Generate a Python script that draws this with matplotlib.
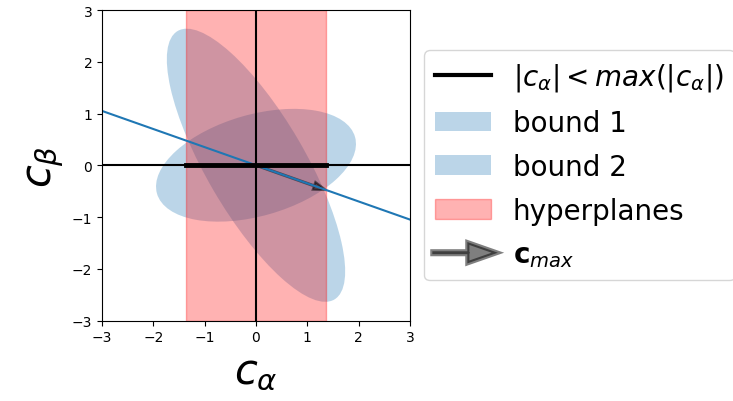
import numpy as np
import matplotlib
matplotlib.use("Agg")
import matplotlib.pyplot as plt
import matplotlib.patches as mpatches
from matplotlib.lines import Line2D
from matplotlib.legend_handler import HandlerPatch

# ---- data ----
xlim = [-3, 3]
ylim = [-3, 3]
ticks = [-3, -2, -1, 0, 1, 2, 3]
c_max = [1.366, -0.48]          # arrow tip / max vector
hyper_bound = 1.366             # |c_alpha| limit
line_slope = -0.35              # line through origin
line_x = [-3, 3]
# ellipses: (width, height, angle_deg)
ellipse1 = (6.02, 1.92, 120.5)
ellipse2 = (4.01, 1.96, 15.8)
labels = [r'$|c_\alpha| < max(|c_\alpha|)$', 'bound 1', 'bound 2', 'hyperplanes', r'$\mathbf{c}_{max}$']

fig = plt.figure(figsize=(7.33, 4.02), dpi=100)
ax = fig.add_axes([102/733, 1-321.5/402, 308/733, 310.5/402])

e1 = mpatches.Ellipse((0, 0), ellipse1[0], ellipse1[1], angle=ellipse1[2],
                      color='C0', alpha=0.3, lw=0)
e2 = mpatches.Ellipse((0, 0), ellipse2[0], ellipse2[1], angle=ellipse2[2],
                      color='C0', alpha=0.3, lw=0)
ax.add_patch(e1)
ax.add_patch(e2)
hp = ax.axvspan(-hyper_bound, hyper_bound, color='red', alpha=0.3)

ax.axhline(0, color='k', lw=1.5)
ax.axvline(0, color='k', lw=1.5)
lx = np.array(line_x)
ax.plot(lx, line_slope*lx, color='C0', lw=1.5)
thick, = ax.plot([-hyper_bound, hyper_bound], [0, 0], color='k', lw=3.5)

arr = mpatches.FancyArrow(0, 0, c_max[0], c_max[1], width=0.02, head_width=0.16,
                          head_length=0.25, length_includes_head=True,
                          facecolor='k', edgecolor='k', alpha=0.5, lw=1.5)
ax.add_patch(arr)

ax.set_xlim(xlim)
ax.set_ylim(ylim)
ax.set_xticks(ticks)
ax.set_yticks(ticks)
ax.set_xlabel(r'$c_\alpha$', fontsize=30)
ax.set_ylabel(r'$c_\beta$', fontsize=30)


def make_arrow(legend, orig_handle, xdescent, ydescent, width, height, fontsize):
    x0 = -0.05*width
    return mpatches.FancyArrow(x0, 0.5*height, 1.18*width, 0, width=0.15*height,
                               head_width=1.1*height, head_length=0.55*width,
                               length_includes_head=True)


leg_line = Line2D([], [], color='k', lw=3)
leg_arrow = mpatches.FancyArrow(0, 0, 1, 0, facecolor='k', edgecolor='k', alpha=0.5, lw=3)
leg = fig.legend([leg_line, e1, e2, hp, leg_arrow], labels, fontsize=20,
                 loc='upper left', bbox_to_anchor=(424/733, 1-51/402),
                 borderaxespad=0, labelspacing=0.57,
                 handler_map={mpatches.FancyArrow: HandlerPatch(patch_func=make_arrow)})

fig.savefig('out.png', dpi=100)
